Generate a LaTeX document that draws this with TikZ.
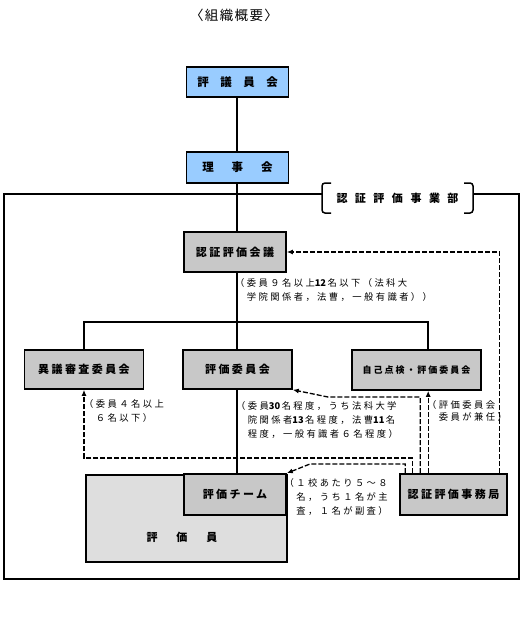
\documentclass[tikz,border=0pt]{standalone}
\usepackage{fontspec}
\usetikzlibrary{arrows.meta,calc}
\newfontfamily\jp{Noto Sans CJK JP}
\newfontfamily\jpls[LetterSpace=22]{Noto Sans CJK JP}
\newfontfamily\jpnote[LetterSpace=26]{Noto Sans CJK JP}
\newfontfamily\jptitle[LetterSpace=10]{Noto Sans CJK JP}
\newcommand\dg[1]{{\jp\bfseries #1}\kern1.5pt}
\definecolor{boxblue}{RGB}{153,204,255}
\definecolor{boxgray}{RGB}{200,200,200}
\definecolor{boxlight}{RGB}{222,222,222}
\begin{document}
\begin{tikzpicture}[x=1pt,y=-1pt,
  bluebox/.style={draw, line width=1.6pt, fill=boxblue, inner sep=0pt, font=\jp\bfseries\fontsize{11.5}{13}\selectfont},
  graybox/.style={draw, line width=1.6pt, fill=boxgray, inner sep=0pt, font=\jpls\bfseries\fontsize{11}{13}\selectfont},
  lightbox/.style={draw, line width=1.6pt, fill=boxlight, inner sep=0pt},
  note/.style={anchor=north west, inner sep=0pt, align=left, font=\jpnote\fontsize{9.3}{14}\selectfont},
  link/.style={line width=1.2pt},
  frame/.style={line width=1.5pt},
  dl/.style={line width=1.3pt, dash pattern=on 5pt off 2pt, -{Latex[length=6pt,width=5pt]}},
]
\fill[white] (0,0) rectangle (530,624);
\useasboundingbox (0,0) rectangle (530,624);

\node[font=\jptitle\fontsize{13.5}{15}\selectfont, inner sep=0pt] (title) at (234,15) {〈組織概要〉};

\node[bluebox, minimum width=102pt, minimum height=30pt] (hyo) at (237.5,82) {評\kern11.5pt 議\kern11.5pt 員\kern11.5pt 会};
\node[bluebox, minimum width=102pt, minimum height=31pt] (riji) at (237.5,167.5) {理\kern18pt 事\kern18pt 会};

% frame and bracket
\draw[frame] (322,194) -- (4,194) -- (4,579) -- (519,579) -- (519,194) -- (473,194);
\draw[frame, rounded corners=3pt] (331,183) -- (322,183) -- (322,213) -- (331,213);
\draw[frame, rounded corners=3pt] (464,183) -- (473,183) -- (473,213) -- (464,213);
\node[font=\jp\bfseries\fontsize{11}{13}\selectfont, inner sep=0pt] (dept) at (397.5,198) {認\kern7.5pt 証\kern7.5pt 評\kern7.5pt 価\kern7.5pt 事\kern7.5pt 業\kern7.5pt 部};

\node[graybox, minimum width=102pt, minimum height=40pt] (kaigi) at (235,252) {認証評価会議};
\node[graybox, minimum width=119pt, minimum height=39pt] (igi) at (84,369.5) {異議審査委員会};
\node[graybox, minimum width=109pt, minimum height=39pt] (hyoka) at (237.5,369.5) {評価委員会};
\node[graybox, minimum width=129pt, minimum height=40pt, font=\jpls\bfseries\fontsize{9}{11}\selectfont] (jiko) at (416.5,370) {自己点検・評価委員会};
\node[graybox, minimum width=107pt, minimum height=41pt] (jimu) at (453.5,494.5) {認証評価事務局};

\node[lightbox, minimum width=201pt, minimum height=87pt, anchor=north west] (hyokain) at (85,474) {};
\node[font=\jp\bfseries\fontsize{11}{13}\selectfont, inner sep=0pt] (hyokainlbl) at (182,537) {評\kern19pt 価\kern19pt 員};
\node[graybox, minimum width=102pt, minimum height=41pt] (team) at (235,494.5) {評価チーム};

% solid connectors
\coordinate (sp) at (237,0);
\draw[link] (hyo.south -| sp) -- (riji.north -| sp);
\draw[link] (riji.south -| sp) -- (kaigi.north -| sp);
\draw[link] (kaigi.south -| sp) -- (hyoka.north -| sp);
\draw[link] (hyoka.south -| sp) -- (team.north -| sp);
\coordinate (br) at (237,322);
\coordinate (jk) at ([xshift=11.5pt]jiko.north);
\draw[link] (igi.north) |- (br) -| (jk);

% dashed connectors
\coordinate (a0) at ([xshift=13pt]jimu.north west);
\coordinate (a1) at (84,458);
\draw[dl] (a0) |- (a1) -- (igi.south);
\coordinate (b0) at ([xshift=6pt]jimu.north west);
\coordinate (b1) at (310,464);
\draw[dl] (b0) |- (b1) -- (team.north east);
\coordinate (c0) at ([xshift=21pt]jimu.north west);
\coordinate (c1) at (328,397);
\draw[dl] (c0) |- (c1) -- (hyoka.south east);
\coordinate (d0) at ([xshift=29pt]jimu.north west);
\draw[dl] (d0) -- (d0 |- jiko.south);
\coordinate (e0) at ([xshift=-8pt]jimu.north east);
\draw[dl] (e0) |- (kaigi.east);

% notes
\node[note] (n1) at (235,278.5) {（委員９名以上\dg{12}名以下（法科大\\　学院関係者，法曹，一般有識者））};
\node[note] (n2) at (84,399.5) {（委員４名以上\\　６名以下）};
\node[note] (n3) at (236,401.5) {（委員\dg{30}名程度，うち法科大学\\　院関係者\dg{13}名程度，法曹\dg{11}名\\　程度，一般有識者６名程度）};
\node[note, font=\jpnote\fontsize{9.3}{12}\selectfont] (n4) at (427,400.5) {（評価委員会\\　委員が兼任）};
\node[note] (n5) at (284.5,478.5) {（１校あたり５～８\\　名，うち１名が主\\　査，１名が副査）};
\end{tikzpicture}
\end{document}
